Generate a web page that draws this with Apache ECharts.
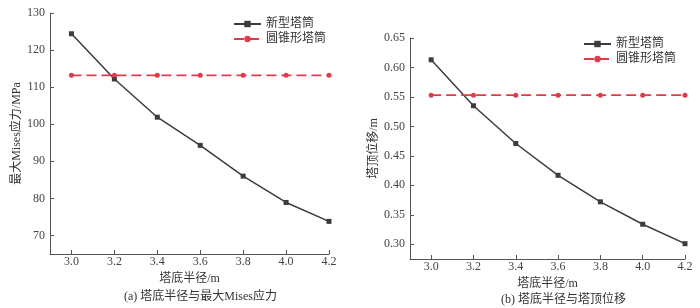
<!DOCTYPE html>
<html>
<head>
  <meta charset="utf-8" />
  <title>塔底半径</title>
  <style>
    body { margin: 0; background: #fff; }
  </style>
  <script src="https://cdn.jsdelivr.net/npm/echarts@6/dist/echarts.min.js"></script>
</head>
<body>
  <div id="main" style="width:700px;height:308px;"></div>
  <script type="text/javascript">
    // 数据
    var radius = [3.0, 3.2, 3.4, 3.6, 3.8, 4.0, 4.2];
    var stressNew = [124.4, 112.2, 101.9, 94.3, 86.0, 78.9, 73.8];
    var stressCone = [113.2, 113.2, 113.2, 113.2, 113.2, 113.2, 113.2];
    var dispNew = [0.613, 0.535, 0.471, 0.417, 0.372, 0.334, 0.301];
    var dispCone = [0.553, 0.553, 0.553, 0.553, 0.553, 0.553, 0.553];
    var xTicks = [3.0, 3.2, 3.4, 3.6, 3.8, 4.0, 4.2];
    var stressTicks = [70, 80, 90, 100, 110, 120, 130];
    var dispTicks = [0.30, 0.35, 0.40, 0.45, 0.50, 0.55, 0.60, 0.65];

    var font = '"Liberation Serif", "Noto Sans CJK SC", serif';
    var black = '#3c3c3c';
    var red = '#e23a4a';

    function pairs(xs, ys) {
      return xs.map(function (x, i) { return [x, ys[i]]; });
    }

    function xAxisOf(gi, gap) {
      return {
        type: 'value', gridIndex: gi, min: 2.9, max: 4.2,
        name: '塔底半径/m', nameLocation: 'middle', nameGap: gap,
        nameTextStyle: { fontFamily: font, fontSize: 12, color: '#333' },
        axisLine: { lineStyle: { color: '#555' } },
        axisTick: { inside: true, length: 4, customValues: xTicks, lineStyle: { color: '#555' } },
        axisLabel: { customValues: xTicks, fontFamily: font, fontSize: 12, color: '#444', margin: 2,
          formatter: function (v) { return v.toFixed(1); } },
        splitLine: { show: false }
      };
    }

    function yAxisOf(gi, min, max, ticks, dec, name, gap) {
      return {
        type: 'value', gridIndex: gi, min: min, max: max,
        name: name, nameLocation: 'middle', nameGap: gap,
        nameTextStyle: { fontFamily: font, fontSize: 12, color: '#333' },
        axisLine: { show: true, lineStyle: { color: '#555' } },
        axisTick: { show: true, inside: true, length: 4, customValues: ticks, lineStyle: { color: '#555' } },
        axisLabel: { customValues: ticks, fontFamily: font, fontSize: 12, color: '#444', margin: 5,
          formatter: function (v) { return v.toFixed(dec); } },
        splitLine: { show: false }
      };
    }

    function lineSeries(name, gi, xs, ys, dashed) {
      return {
        name: name, type: 'line', xAxisIndex: gi, yAxisIndex: gi,
        data: pairs(xs, ys),
        symbol: dashed ? 'circle' : 'rect',
        symbolSize: 5,
        itemStyle: { color: dashed ? red : black },
        lineStyle: dashed ? { color: red, width: 1.8, type: [10, 5] } : { color: black, width: 1.5 },
        animation: false
      };
    }

    function legendOf(left, top) {
      return {
        left: left, top: top, orient: 'vertical', itemGap: 3, padding: 0,
        itemWidth: 27, itemHeight: 8,
        textStyle: { fontFamily: font, fontSize: 12, color: '#333' },
        data: ['新型塔筒', '圆锥形塔筒']
      };
    }

    var myChart = echarts.init(document.getElementById('main'));
    var option = {
      animation: false,
      grid: [
        { left: 50, right: 371, top: 13, bottom: 54 },
        { left: 410, right: 15, top: 38, bottom: 49 }
      ],
      legend: [legendOf(233, 18), legendOf(583, 38)],
      xAxis: [xAxisOf(0, 18), xAxisOf(1, 13)],
      yAxis: [
        yAxisOf(0, 65, 130, stressTicks, 0, '最大Mises应力/MPa', 27),
        yAxisOf(1, 0.275, 0.65, dispTicks, 2, '塔顶位移/m', 27)
      ],
      series: [
        lineSeries('新型塔筒', 0, radius, stressNew, false),
        lineSeries('圆锥形塔筒', 0, radius, stressCone, true),
        lineSeries('新型塔筒', 1, radius, dispNew, false),
        lineSeries('圆锥形塔筒', 1, radius, dispCone, true)
      ],
      graphic: [
        { type: 'text', left: 200 - 76, top: 291,
          style: { text: '(a) 塔底半径与最大Mises应力', font: '12px ' + font, fill: '#333' } },
        { type: 'text', left: 563 - 62, top: 294,
          style: { text: '(b) 塔底半径与塔顶位移', font: '12px ' + font, fill: '#333' } }
      ]
    };
    myChart.setOption(option);
  </script>
</body>
</html>
